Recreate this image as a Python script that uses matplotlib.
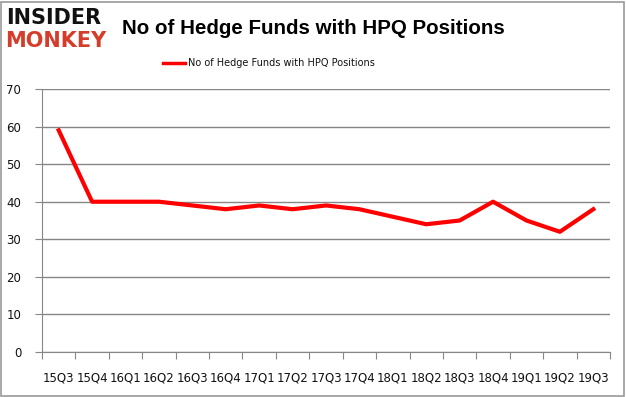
import matplotlib
matplotlib.use("Agg")
import matplotlib.pyplot as plt
from matplotlib.patches import Rectangle

quarters = ["15Q3", "15Q4", "16Q1", "16Q2", "16Q3", "16Q4", "17Q1", "17Q2", "17Q3",
            "17Q4", "18Q1", "18Q2", "18Q3", "18Q4", "19Q1", "19Q2", "19Q3"]
funds = [59, 40, 40, 40, 39, 38, 39, 38, 39, 38, 36, 34, 35, 40, 35, 32, 38]
yticks = [0, 10, 20, 30, 40, 50, 60, 70]

W, H = 626, 397
fig = plt.figure(figsize=(W / 100, H / 100), dpi=100)
fig.patch.set_facecolor("white")

# outer border
fig.add_artist(Rectangle((1 / W, 1 / H), (W - 3) / W, (H - 3) / H, transform=fig.transFigure,
                         fill=False, edgecolor="#9a9a9a", linewidth=1.2))

ax = fig.add_axes([42 / W, 1 - 352 / H, (610 - 42) / W, (352 - 89) / H])
n = len(quarters)
x = list(range(n))
ax.plot(x, funds, color="#ff0000", linewidth=3, solid_joinstyle="round",
        label="No of Hedge Funds with HPQ Positions")
ax.set_xlim(-0.5, n - 0.5)
ax.set_ylim(0, 70)
ax.set_yticks(yticks)
ax.set_yticklabels([str(v) for v in yticks])
ax.grid(axis="y", color="#868686", linewidth=1)
ax.set_axisbelow(True)
ax.set_xticks([i - 0.5 for i in range(n + 1)], minor=False)
ax.set_xticklabels([])
ax.set_xticks(x, minor=True)
ax.set_xticklabels(quarters, minor=True)
ax.tick_params(axis="x", which="major", length=5, color="#868686", direction="out")
ax.tick_params(axis="x", which="minor", length=0, pad=14, labelsize=8.5, labelcolor="#111111")
ax.tick_params(axis="y", length=5, color="#868686", labelsize=8.5, labelcolor="#111111", pad=10)
for s in ["top", "right"]:
    ax.spines[s].set_visible(False)
for s in ["left", "bottom"]:
    ax.spines[s].set_color("#868686")

# title
fig.text(313 / W, 1 - 28 / H, "No of Hedge Funds with HPQ Positions", ha="center", va="center",
         fontsize=14.8, fontweight="bold", color="#000000", family="Liberation Sans")
# legend
fig.add_artist(plt.Line2D([163 / W, 185 / W], [1 - 63 / H, 1 - 63 / H], color="#ff0000",
                          linewidth=2.5, transform=fig.transFigure))
fig.text(188 / W, 1 - 63 / H, "No of Hedge Funds with HPQ Positions", ha="left", va="center",
         fontsize=7, color="#111111")
# logo
fig.text(6 / W, 1 - 18 / H, "INSIDER", ha="left", va="center", fontsize=15, fontweight="heavy",
         color="#111111", family="DejaVu Sans")
fig.text(5 / W, 1 - 41 / H, "MONKEY", ha="left", va="center", fontsize=15, fontweight="heavy",
         color="#d63c2a", family="DejaVu Sans")

fig.savefig("out.png", dpi=100)
